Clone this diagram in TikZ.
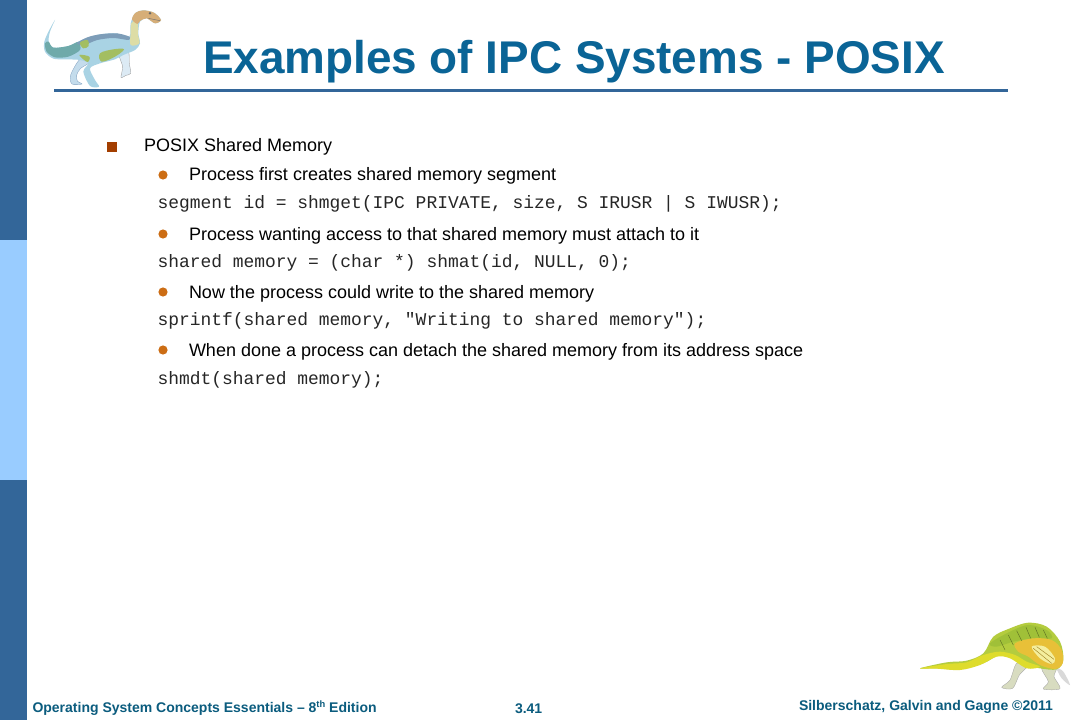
\documentclass[tikz,border=0pt]{standalone}
\usepackage{fontspec}
\setmainfont{Liberation Sans}
\setmonofont{Liberation Mono}
\definecolor{sidedark}{HTML}{336699}
\definecolor{sidelight}{HTML}{99CCFF}
\definecolor{titleblue}{HTML}{0A6496}
\definecolor{rulecol}{HTML}{336699}
\definecolor{footcol}{HTML}{0B5C7E}
\definecolor{sqcol}{HTML}{A33E00}
\definecolor{dotcol}{HTML}{CC6D14}
% top dinosaur
\definecolor{dbody}{HTML}{A9D3E4}
\definecolor{dback}{HTML}{7D9DB8}
\definecolor{dtail}{HTML}{6FAAAA}
\definecolor{dbelly}{HTML}{A3BE62}
\definecolor{dleg}{HTML}{C4DCEC}
\definecolor{dneck}{HTML}{DDDDA6}
\definecolor{dhead}{HTML}{D6AE78}
% bottom dinosaur
\definecolor{bgreen}{HTML}{B4CC3E}
\definecolor{bback}{HTML}{A0C038}
\definecolor{byellow}{HTML}{DEDC2C}
\definecolor{borange}{HTML}{E8C038}
\definecolor{bpale}{HTML}{F4EE9E}
\definecolor{bleg}{HTML}{D8DCC0}
\tikzset{
  px/.style={x=0.75pt,y=-0.75pt},
  zoomcoords/.style={x=0.25pt,y=-0.25pt},
  txt/.style={anchor=base west,inner sep=0pt,outer sep=0pt,text=black},
  lvlone/.style={txt,font=\fontsize{13.5pt}{16pt}\selectfont},
  codeline/.style={txt,font=\ttfamily\fontsize{13.45pt}{16pt}\selectfont,text=black!85},
  foot/.style={txt,text=footcol,font=\bfseries\fontsize{10.5pt}{12pt}\selectfont},
  sq/.style={fill=sqcol,draw=none},
  dot/.style={fill=dotcol,draw=none},
}
\begin{document}
\begin{tikzpicture}[px]
\useasboundingbox (0,0) rectangle (1080,720);
\fill[white] (0,0) rectangle (1080,720);
% sidebar
\fill[sidedark] (0,0) rectangle (27,240);
\fill[sidelight] (0,240) rectangle (27,480);
\fill[sidedark] (0,480) rectangle (27,720);
% title
\node[txt,text=titleblue,font=\bfseries\fontsize{34.4pt}{40pt}\selectfont] (title) at (203,74) {Examples of IPC Systems - POSIX};
\fill[rulecol] (54,89) rectangle (1008,92);
% top dinosaur (coordinates of a 3x crop)
\begin{scope}[zoomcoords]
% far legs
\fill[dleg!60!white,draw=black!40,line width=.25pt] plot[smooth cycle,tension=.5] coordinates {(358,165)(385,155)(388,190)(392,220)(378,226)(363,232)(368,200)};
\fill[dleg,draw=sidedark!60,line width=.25pt] plot[smooth cycle,tension=.5] coordinates {(240,178)(270,186)(242,205)(230,225)(232,243)(246,252)(216,252)(212,225)};
% body, neck and near leg
\fill[dbody] plot[smooth cycle,tension=.5] coordinates {(165,60)(150,95)(146,125)(160,143)(205,138)(250,118)(300,103)(350,100)(388,110)(392,70)(405,40)(430,31)(462,38)(483,60)(465,70)(440,55)(420,65)(415,100)(420,130)(405,150)(370,165)(345,178)(300,190)(270,205)(285,240)(297,260)(270,258)(250,215)(265,190)(240,180)(200,178)(160,176)(135,155)(133,125)(148,90)};
% tail and back colouring
\fill[dtail] plot[smooth cycle,tension=.5] coordinates {(146,125)(160,143)(205,138)(235,126)(240,150)(205,170)(165,172)(140,155)(135,130)};
\fill[dback] plot[smooth cycle,tension=.5] coordinates {(230,130)(262,112)(300,103)(350,100)(388,110)(386,120)(340,114)(292,120)(255,134)};
% green belly and flank
\fill[dbelly] plot[smooth cycle,tension=.6] coordinates {(300,160)(340,148)(372,148)(345,170)(305,185)};
\fill[dbelly] plot[smooth cycle,tension=.6] coordinates {(240,128)(262,120)(266,138)(250,145)};
\fill[dbelly] plot[smooth cycle,tension=.6] coordinates {(238,165)(268,170)(262,186)};
% neck and head
\fill[dneck] plot[smooth cycle,tension=.6] coordinates {(392,100)(394,70)(408,60)(414,70)(414,105)(418,130)(392,135)};
\fill[dhead] plot[smooth cycle,tension=.5] coordinates {(396,58)(407,38)(430,31)(462,38)(483,60)(465,70)(440,55)(420,63)(412,72)};
\fill[black!60] (450,40) circle[radius=4];
\draw[black!55,line width=.35pt] (445,55) -- (480,62);
\end{scope}
% bottom dinosaur
\begin{scope}[shift={(900,600)},zoomcoords]
\fill[bleg,draw=black!35,line width=.25pt] plot[smooth cycle,tension=.5] coordinates {(425,205)(468,205)(462,230)(480,266)(430,267)(445,245)};
\fill[bleg,draw=black!35,line width=.25pt] plot[smooth cycle,tension=.5] coordinates {(350,190)(385,195)(358,225)(338,265)(305,262)(330,240)};
\fill[white!85!black] plot[smooth cycle,tension=.5] coordinates {(470,205)(490,215)(510,255)(485,235)};
\fill[bgreen] plot[smooth cycle,tension=.55] coordinates {(60,205)(140,187)(200,182)(250,160)(280,110)(330,85)(385,68)(440,80)(480,125)(490,180)(470,208)(420,205)(380,195)(345,175)(300,165)(250,190)(180,208)(110,205)};
\fill[byellow] plot[smooth cycle,tension=.55] coordinates {(60,205)(140,192)(200,187)(250,165)(300,155)(345,165)(380,185)(420,200)(380,205)(330,175)(290,170)(240,195)(180,210)(110,206)};
\fill[bback] plot[smooth cycle,tension=.55] coordinates {(270,130)(330,95)(385,75)(440,90)(455,115)(400,115)(340,125)(290,140)};
\fill[borange] plot[smooth cycle,tension=.55] coordinates {(345,130)(400,115)(455,120)(485,150)(488,190)(465,207)(420,195)(385,170)(355,155)};
\fill[bpale] plot[smooth cycle,tension=.55] coordinates {(395,140)(435,140)(465,175)(455,192)(420,175)};
\draw[bback!60!black,line width=.35pt] (300,120)--(315,150) (325,105)--(340,135) (350,92)--(365,122) (378,82)--(392,115) (405,82)--(418,112) (430,90)--(442,115);
\draw[borange!70!black,line width=.35pt] (400,145)--(455,190) (410,140)--(462,178);
\end{scope}
% bullets and text
\fill[sq] (107,142) rectangle (117,152);
\node[lvlone] (t1) at (144,152) {POSIX Shared Memory};
\fill[dot] (163,175) circle[radius=4.6];
\node[lvlone] (t2) at (189,181) {Process first creates shared memory segment};
\node[codeline] (c2) at (157.5,209) {segment id = shmget(IPC PRIVATE, size, S IRUSR | S IWUSR);};
\fill[dot] (163,234) circle[radius=4.6];
\node[lvlone] (t3) at (189,240) {Process wanting access to that shared memory must attach to it};
\node[codeline] (c3) at (157.5,267) {shared memory = (char *) shmat(id, NULL, 0);};
\fill[dot] (163,292) circle[radius=4.6];
\node[lvlone] (t4) at (189,298) {Now the process could write to the shared memory};
\node[codeline] (c4) at (157.5,325) {sprintf(shared memory, "Writing to shared memory");};
\fill[dot] (163,350) circle[radius=4.6];
\node[lvlone] (t5) at (189,356) {When done a process can detach the shared memory from its address space};
\node[codeline] (c5) at (157.5,384) {shmdt(shared memory);};
% footer
\node[foot] (f1) at (32.5,712) {Operating System Concepts Essentials – 8\raisebox{.55ex}{\fontsize{7pt}{8pt}\selectfont th} Edition};
\node[foot] (f2) at (515,713) {3.41};
\node[foot] (f3) at (799,710) {Silberschatz, Galvin and Gagne ©2011};
\end{tikzpicture}
\end{document}
